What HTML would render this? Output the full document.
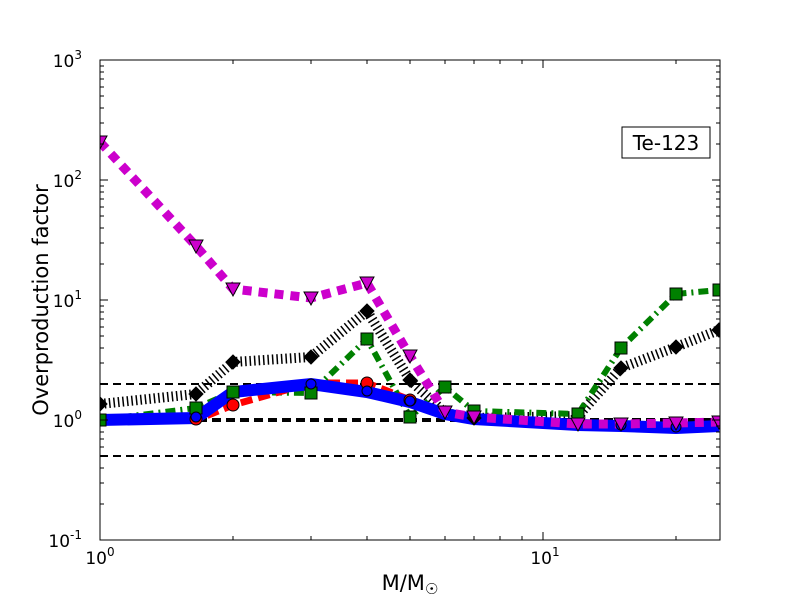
<!DOCTYPE html>
<html><head><style>body{margin:0;background:#fff}svg{display:block}text{font-family:"DejaVu Sans","Liberation Sans",sans-serif}</style></head>
<body>
<svg width="800" height="600" viewBox="0 0 800 600">
<defs><clipPath id="c"><rect x="100" y="60" width="620" height="480"/></clipPath></defs>
<g clip-path="url(#c)">
<line x1="100" x2="720" y1="384" y2="384" stroke="#000" stroke-width="2" stroke-dasharray="8 5"/>
<line x1="100" x2="720" y1="420" y2="420" stroke="#000" stroke-width="4" stroke-dasharray="9 5"/>
<line x1="100" x2="720" y1="456" y2="456" stroke="#000" stroke-width="2" stroke-dasharray="8 5"/>
<polyline fill="none" stroke="#000" stroke-width="10" stroke-dasharray="1.5 3" points="100,404 196,394 233,362 311,357 367,311 410,380 445,413 474,418 578,416 621,368 676,347 719,330"/>
<polyline fill="none" stroke="#008000" stroke-width="6" stroke-dasharray="10 5 2 5" points="100,420 196,408 233,392 311,393 367,339 410,417 445,387 474,411 578,414 621,348 676,294 719,290"/>
<polyline fill="none" stroke="#f00" stroke-width="7" stroke-dasharray="12 6" points="100,420 196,420 233,405 311,383 367,383 410,400 445,414 474,418 578,424 621,424 676,426 719,424"/>
<polyline fill="none" stroke="#00f" stroke-width="12" points="100,420 196,418 233,392 311,384 367,392 410,402 445,414 474,419 578,425 621,426 676,428 719,426"/>
<polyline fill="none" stroke="#c0c" stroke-width="9" stroke-dasharray="9 7" points="100,142 196,246 233,289 311,298 367,283 410,356 445,412 474,417 578,424 621,424 676,423 719,422"/>
<g fill="#000" stroke="#000">
<path d="M100,397 l7,7 -7,7 -7,-7z"/><path d="M196,387 l7,7 -7,7 -7,-7z"/><path d="M233,355 l7,7 -7,7 -7,-7z"/><path d="M311,350 l7,7 -7,7 -7,-7z"/><path d="M367,304 l7,7 -7,7 -7,-7z"/><path d="M410,373 l7,7 -7,7 -7,-7z"/><path d="M474,411 l7,7 -7,7 -7,-7z"/><path d="M578,409 l7,7 -7,7 -7,-7z"/><path d="M621,361 l7,7 -7,7 -7,-7z"/><path d="M676,340 l7,7 -7,7 -7,-7z"/><path d="M719,323 l7,7 -7,7 -7,-7z"/></g>
<g fill="#008000" stroke="#000">
<rect x="94" y="414" width="12" height="12"/><rect x="190" y="402" width="12" height="12"/><rect x="227" y="386" width="12" height="12"/><rect x="305" y="387" width="12" height="12"/><rect x="361" y="333" width="12" height="12"/><rect x="404" y="411" width="12" height="12"/><rect x="439" y="381" width="12" height="12"/><rect x="468" y="405" width="12" height="12"/><rect x="572" y="408" width="12" height="12"/><rect x="615" y="342" width="12" height="12"/><rect x="670" y="288" width="12" height="12"/><rect x="713" y="284" width="12" height="12"/></g>
<g fill="#f00" stroke="#000"><circle cx="196" cy="419" r="6"/><circle cx="233" cy="405" r="6"/><circle cx="367" cy="383" r="6"/><circle cx="410" cy="400" r="6"/></g>
<g fill="#00f" stroke="#000"><circle cx="196" cy="417" r="5"/><circle cx="311" cy="384" r="5"/><circle cx="367" cy="391" r="5"/><circle cx="410" cy="401" r="5"/><circle cx="621" cy="425" r="5"/><circle cx="676" cy="427" r="5"/></g>
<g fill="#c0c" stroke="#000">
<path d="M93,136 h14 l-7,13z"/><path d="M189,240 h14 l-7,13z"/><path d="M226,283 h14 l-7,13z"/><path d="M304,292 h14 l-7,13z"/><path d="M360,277 h14 l-7,13z"/><path d="M403,350 h14 l-7,13z"/><path d="M438,406 h14 l-7,13z"/><path d="M467,411 h14 l-7,13z"/><path d="M571,418 h14 l-7,13z"/><path d="M614,418 h14 l-7,13z"/><path d="M669,417 h14 l-7,13z"/><path d="M712,416 h14 l-7,13z"/></g>
</g>
<rect x="100" y="60" width="620" height="480" fill="none" stroke="#000" stroke-width="1"/>
<g stroke="#000" stroke-width="1">
<path d="M100,60h8M100,180h8M100,300h8M100,420h8M100,540h8M720,60h-8M720,180h-8M720,300h-8M720,420h-8M720,540h-8"/>
<path d="M543,540v-8M543,60v8"/>
<path d="M233,540v-4M311,540v-4M367,540v-4M410,540v-4M445,540v-4M474,540v-4M500,540v-4M522,540v-4M676,540v-4M233,60v4M311,60v4M367,60v4M410,60v4M445,60v4M474,60v4M500,60v4M522,60v4M676,60v4"/>
<path d="M100,504h4M100,483h4M100,468h4M100,456h4M100,447h4M100,439h4M100,432h4M100,426h4M100,384h4M100,363h4M100,348h4M100,336h4M100,327h4M100,319h4M100,312h4M100,306h4M100,264h4M100,243h4M100,228h4M100,216h4M100,207h4M100,199h4M100,192h4M100,186h4M100,144h4M100,123h4M100,108h4M100,96h4M100,87h4M100,79h4M100,72h4M100,66h4"/>
<path d="M720,504h-4M720,483h-4M720,468h-4M720,456h-4M720,447h-4M720,439h-4M720,432h-4M720,426h-4M720,384h-4M720,363h-4M720,348h-4M720,336h-4M720,327h-4M720,319h-4M720,312h-4M720,306h-4M720,264h-4M720,243h-4M720,228h-4M720,216h-4M720,207h-4M720,199h-4M720,192h-4M720,186h-4M720,144h-4M720,123h-4M720,108h-4M720,96h-4M720,87h-4M720,79h-4M720,72h-4M720,66h-4"/>
</g>
<g font-size="17" fill="#000" text-anchor="end">
<text x="82" y="67">10<tspan font-size="12" dy="-8">3</tspan></text>
<text x="82" y="187">10<tspan font-size="12" dy="-8">2</tspan></text>
<text x="82" y="307">10<tspan font-size="12" dy="-8">1</tspan></text>
<text x="82" y="427">10<tspan font-size="12" dy="-8">0</tspan></text>
<text x="82" y="547">10<tspan font-size="12" dy="-8">-1</tspan></text>
</g>
<g font-size="17" text-anchor="middle">
<text x="100" y="564">10<tspan font-size="12" dy="-8">0</tspan></text>
<text x="545" y="564">10<tspan font-size="12" dy="-8">1</tspan></text>
</g>
<text x="410" y="590" font-size="21" text-anchor="middle">M/M<tspan font-size="15" dy="4">☉</tspan></text>
<text transform="translate(48,300) rotate(-90)" font-size="21" text-anchor="middle">Overproduction factor</text>
<rect x="622" y="127" width="88" height="31" fill="#fff" stroke="#000"/>
<text x="666" y="150" font-size="20" text-anchor="middle">Te-123</text>
</svg>
</body></html>
